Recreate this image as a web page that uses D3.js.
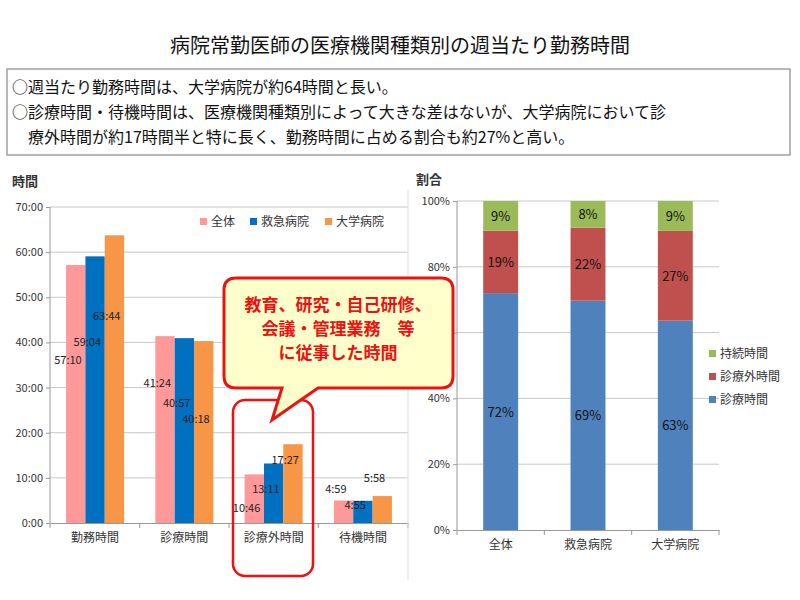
<!DOCTYPE html>
<html><head><meta charset="utf-8">
<script src="https://cdn.jsdelivr.net/npm/d3@7"></script>
<style>body{margin:0;background:#fff}text{font-family:"Noto Sans CJK JP",sans-serif}</style>
</head><body>
<svg id="c" width="800" height="600"></svg>
<script>
const categories = ["勤務時間","診療時間","診療外時間","待機時間"];
const seriesNames = ["全体","救急病院","大学病院"];
const valZentai = [57+10/60, 41+24/60, 10+46/60, 4+59/60];
const valKyukyu = [59+4/60, 40+57/60, 13+11/60, 4+55/60];
const valDaigaku = [63+44/60, 40+18/60, 17+27/60, 5+58/60];
const labZentai = ["57:10","41:24","10:46","4:59"];
const labKyukyu = ["59:04","40:57","13:11","4:55"];
const labDaigaku = ["63:44","40:18","17:27","5:58"];
const labYZentai = [35.3, 30.2, 2.5, 6.6];
const labYKyukyu = [39.3, 25.7, 6.6, 3.1];
const labYDaigaku = [45.0, 22.2, 13.0, 9.0];
const yTicks = [0,10,20,30,40,50,60,70];
const yTickLabels = ["0:00","10:00","20:00","30:00","40:00","50:00","60:00","70:00"];
const colors = ["#FF9999","#0070C0","#F79646"];

const groups = ["全体","救急病院","大学病院"];
const shareShinryo = [72,69,63];
const shareGai = [19,22,27];
const shareTaiki = [9,8,9];
const shareNames = ["診療時間","診療外時間","持続時間"];
const shareColors = ["#4F81BD","#C0504D","#9BBB59"];
const pctTicks = [0,20,40,60,80,100];

const svg = d3.select("#c");
const F = '"Noto Sans CJK JP",sans-serif';

svg.append("text").attr("x",400).attr("y",53).attr("text-anchor","middle").attr("font-size",20).attr("fill","#111").text("病院常勤医師の医療機関種類別の週当たり勤務時間");
svg.append("rect").attr("x",7).attr("y",69).attr("width",783).attr("height",86).attr("fill","#fff").attr("stroke","#888").attr("stroke-width",1.2);
const lines = ["○週当たり勤務時間は、大学病院が約64時間と長い。","○診療時間・待機時間は、医療機関種類別によって大きな差はないが、大学病院において診","　療外時間が約17時間半と特に長く、勤務時間に占める割合も約27%と高い。"];
lines.forEach((t,i)=>svg.append("text").attr("x",12).attr("y",93+i*25).attr("font-size",16).attr("fill","#111").text(t));

const x0 = d3.scaleBand().domain(categories).range([50,408]).paddingInner(0.35).paddingOuter(0.18);
const x1 = d3.scaleBand().domain(seriesNames).range([0,x0.bandwidth()]);
const y = d3.scaleLinear().domain([0,70]).range([523,207]);
svg.append("text").attr("x",12).attr("y",186).attr("font-size",13).attr("font-weight","bold").attr("fill","#333").text("時間");
const gl = svg.append("g");
gl.selectAll("line.g").data(yTicks.slice(1)).join("line").attr("x1",50).attr("x2",408).attr("y1",d=>y(d)).attr("y2",d=>y(d)).attr("stroke","#c8c8c8");
gl.append("line").attr("x1",50).attr("x2",50).attr("y1",207).attr("y2",523).attr("stroke","#999");
const ay = d3.axisLeft(y).tickValues(yTicks).tickFormat((d,i)=>yTickLabels[i]).tickSize(4);
svg.append("g").attr("transform","translate(50,0)").call(ay).call(g=>{g.select(".domain").remove();g.selectAll("line").attr("stroke","#999");g.selectAll("text").attr("font-size",11).attr("fill","#333").attr("font-family",F);});
const ax = d3.axisBottom(x0).tickSize(0);
const axg = svg.append("g").attr("transform","translate(0,523)").call(ax);
axg.select(".domain").attr("stroke","#999");
axg.selectAll("text").attr("font-size",12).attr("fill","#333").attr("font-family",F).attr("dy","1.3em");
const bounds = [50,...categories.slice(1).map(c=>x0(c)-x0.step()*x0.paddingInner()/2),408];
svg.selectAll("line.tk").data(bounds).join("line").attr("x1",d=>d).attr("x2",d=>d).attr("y1",523).attr("y2",528).attr("stroke","#999");
const vals=[valZentai,valKyukyu,valDaigaku], labs=[labZentai,labKyukyu,labDaigaku], labY=[labYZentai,labYKyukyu,labYDaigaku];
seriesNames.forEach((s,si)=>{
  categories.forEach((c,ci)=>{
    svg.append("rect").attr("x",x0(c)+x1(s)).attr("width",x1.bandwidth()).attr("y",y(vals[si][ci])).attr("height",523-y(vals[si][ci])).attr("fill",colors[si]);
  });
});
seriesNames.forEach((s,si)=>{
  categories.forEach((c,ci)=>{
    svg.append("text").attr("x",x0(c)+x1(s)+x1.bandwidth()*0.1).attr("y",y(labY[si][ci])).attr("text-anchor","middle").attr("font-size",11).attr("fill","#222").text(labs[si][ci]);
  });
});
const legX=[200,250,325];
seriesNames.forEach((s,i)=>{
  svg.append("rect").attr("x",legX[i]).attr("y",218).attr("width",7).attr("height",7).attr("fill",colors[i]);
  svg.append("text").attr("x",legX[i]+11).attr("y",226).attr("font-size",12).attr("fill","#333").text(s);
});
svg.append("line").attr("x1",408).attr("x2",408).attr("y1",190).attr("y2",580).attr("stroke","#ddd");

const xr = d3.scaleBand().domain(groups).range([457,719]).paddingInner(0.6).paddingOuter(0.3);
const yr = d3.scaleLinear().domain([0,100]).range([530,201]);
svg.append("text").attr("x",416).attr("y",184).attr("font-size",13).attr("font-weight","bold").attr("fill","#333").text("割合");
svg.selectAll("line.gr").data(pctTicks.slice(1)).join("line").attr("x1",457).attr("x2",719).attr("y1",d=>yr(d)).attr("y2",d=>yr(d)).attr("stroke","#c8c8c8");
svg.append("line").attr("x1",457).attr("x2",457).attr("y1",201).attr("y2",530).attr("stroke","#999");
svg.append("g").attr("transform","translate(457,0)").call(d3.axisLeft(yr).tickValues(pctTicks).tickFormat(d=>d+"%").tickSize(4)).call(g=>{g.select(".domain").remove();g.selectAll("line").attr("stroke","#999");g.selectAll("text").attr("font-size",11).attr("fill","#333").attr("font-family",F);});
const axr = svg.append("g").attr("transform","translate(0,530)").call(d3.axisBottom(xr).tickSize(0));
axr.select(".domain").attr("stroke","#999");
axr.selectAll("text").attr("font-size",12).attr("fill","#333").attr("font-family",F).attr("dy","1.3em");
[457,...groups.slice(1).map(g=>xr(g)-xr.step()*xr.paddingInner()/2),719].forEach(d=>svg.append("line").attr("x1",d).attr("x2",d).attr("y1",530).attr("y2",535).attr("stroke","#999"));
const shares=[shareShinryo,shareGai,shareTaiki];
groups.forEach((g,gi)=>{
  const tot = d3.sum(shares,a=>a[gi]);
  let acc=0;
  shares.forEach((arr,si)=>{
    const v=arr[gi]*100/tot;
    svg.append("rect").attr("x",xr(g)).attr("width",xr.bandwidth()).attr("y",yr(acc+v)).attr("height",yr(acc)-yr(acc+v)).attr("fill",shareColors[si]);
    svg.append("text").attr("x",xr(g)+xr.bandwidth()/2).attr("y",yr(acc+v/2)+5).attr("text-anchor","middle").attr("font-size",13).attr("fill","#111").text(arr[gi]+"%");
    acc+=v;
  });
});
[2,1,0].forEach((si,k)=>{
  svg.append("rect").attr("x",709).attr("y",350+k*23).attr("width",7).attr("height",7).attr("fill",shareColors[si]);
  svg.append("text").attr("x",720).attr("y",358+k*23).attr("font-size",12).attr("fill","#333").text(shareNames[si]);
});

svg.append("rect").attr("x",233).attr("y",400).attr("width",80).attr("height",176).attr("rx",12).attr("fill","none").attr("stroke","#EE1111").attr("stroke-width",2.5);
svg.append("path").attr("d","M236,278 H441 Q453,278 453,290 V376 Q453,388 441,388 H318 L272,420 L282,388 H236 Q224,388 224,376 V290 Q224,278 236,278 Z").attr("fill","#FFFFCC").attr("stroke","#EE1111").attr("stroke-width",3);
["教育、研究・自己研修、","会議・管理業務　等","に従事した時間"].forEach((t,i)=>svg.append("text").attr("x",338).attr("y",311+i*24).attr("text-anchor","middle").attr("font-size",17).attr("font-weight","bold").attr("fill","#EE1111").text(t));
</script></body></html>
